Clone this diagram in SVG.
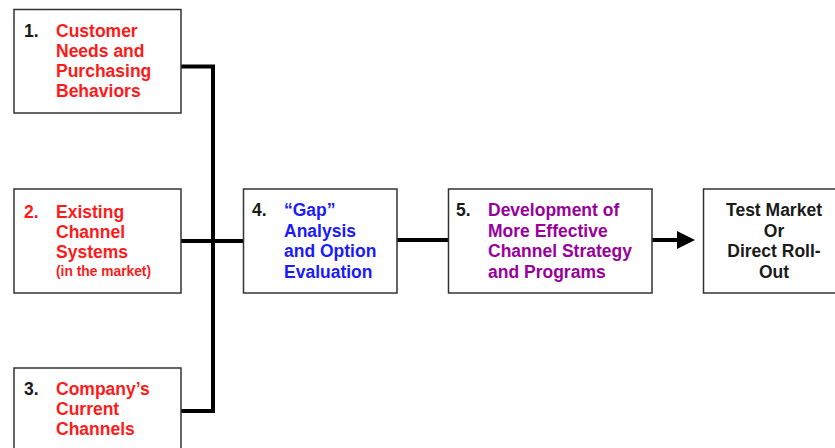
<svg xmlns="http://www.w3.org/2000/svg" width="835" height="448" viewBox="0 0 835 448">
<style>
.box{fill:#fff;stroke:#333;stroke-width:1.5}
.t{font-family:"Liberation Sans",Arial,sans-serif;font-weight:bold;font-size:17.5px}
.s{font-size:13.8px}
.red{fill:#ff1a1a}
.blue{fill:#1a1aff}
.pur{fill:#990099}
.blk{fill:#1a1a1a}
.c{fill:none;stroke:#000;stroke-width:4}
</style>
<rect width="835" height="448" fill="#fff"/>
<g id="connectors">
<path class="c" d="M181,66.5 H213 V411 H181"/>
<path class="c" d="M181,241 H243"/>
<path class="c" d="M397,240 H449"/>
<path class="c" d="M652,240 H678"/>
<path d="M677,231 L695,240 L677,249 Z" fill="#000"/>
</g>
<g id="n1">
<rect class="box" x="14" y="9.5" width="167" height="103.5"/>
<text class="t blk" x="24" y="37">1.</text>
<text class="t red" x="56" y="37">Customer</text>
<text class="t red" x="56" y="57">Needs and</text>
<text class="t red" x="56" y="77">Purchasing</text>
<text class="t red" x="56" y="97">Behaviors</text>
</g>
<g id="n2">
<rect class="box" x="14" y="189" width="167" height="104"/>
<text class="t red" x="24" y="218">2.</text>
<text class="t red" x="56" y="218">Existing</text>
<text class="t red" x="56" y="238">Channel</text>
<text class="t red" x="56" y="258">Systems</text>
<text class="t red s" x="56" y="276">(in the market)</text>
</g>
<g id="n3">
<rect class="box" x="14" y="368" width="167" height="105"/>
<text class="t blk" x="24" y="395">3.</text>
<text class="t red" x="56" y="395">Company’s</text>
<text class="t red" x="56" y="415">Current</text>
<text class="t red" x="56" y="435">Channels</text>
</g>
<g id="n4">
<rect class="box" x="243.5" y="189" width="153.5" height="104"/>
<text class="t blk" x="252" y="216">4.</text>
<text class="t blue" x="284" y="216">“Gap”</text>
<text class="t blue" x="284" y="236.5">Analysis</text>
<text class="t blue" x="284" y="257">and Option</text>
<text class="t blue" x="284" y="277.5">Evaluation</text>
</g>
<g id="n5">
<rect class="box" x="448.5" y="189" width="203.5" height="104"/>
<text class="t blk" x="456" y="216">5.</text>
<text class="t pur" x="488" y="216">Development of</text>
<text class="t pur" x="488" y="236.5">More Effective</text>
<text class="t pur" x="488" y="257">Channel Strategy</text>
<text class="t pur" x="488" y="277.5">and Programs</text>
</g>
<g id="n6">
<rect class="box" x="703.5" y="189" width="136" height="104"/>
<text class="t blk" x="774" y="216" text-anchor="middle">Test Market</text>
<text class="t blk" x="774" y="236.5" text-anchor="middle">Or</text>
<text class="t blk" x="774" y="257" text-anchor="middle">Direct Roll-</text>
<text class="t blk" x="774" y="277.5" text-anchor="middle">Out</text>
</g>
</svg>
